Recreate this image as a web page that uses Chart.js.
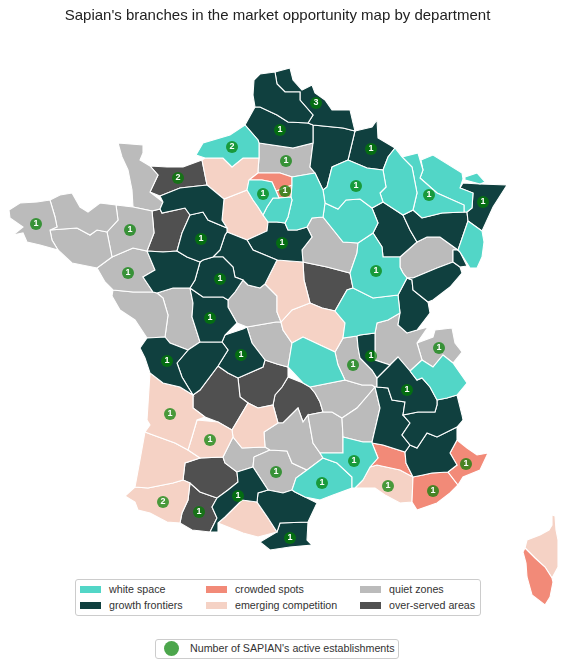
<!DOCTYPE html>
<html>
<head>
<meta charset="utf-8">
<script src="https://cdn.jsdelivr.net/npm/chart.js@4"></script>
<style>
    html, body { margin: 0; padding: 0; background: #fff; overflow: hidden; }
    body { width: 564px; height: 664px; position: relative; font-family: "Liberation Sans", Arial, sans-serif; color: #333; }
    #map { position: absolute; left: -9px; top: 0; }
    .legend { position: absolute; box-sizing: border-box; background: #fff; border: 1px solid #ccc; border-radius: 3px; font-size: 10.7px; }
    #zones { left: 75px; top: 579px; width: 406px; height: 37px; }
    #zones div { position: absolute; white-space: nowrap; line-height: 12px; }
    #zones i { position: absolute; width: 21px; height: 7px; }
    #count { left: 155px; top: 639px; width: 244px; height: 20px; line-height: 17px; padding-left: 34px; white-space: nowrap; }
    #count i { position: absolute; left: 8px; top: 1px; width: 15px; height: 15px; border-radius: 50%; background: rgba(0,128,0,0.7); }
</style>
</head>
<body>
<canvas id="map" width="573" height="664"></canvas>
<div class="legend" id="zones"></div>
<div class="legend" id="count"><i></i>Number of SAPIAN's active establishments</div>
<script>
// ------ data (outlines are x,y pairs in map units) ------
const titleText = "Sapian's branches in the market opportunity map by department";
const categories = ['white space', 'growth frontiers', 'crowded spots', 'emerging competition', 'quiet zones', 'over-served areas'];

const whiteSpace = [
    [196,155,203,143,230,135,245,125,258,140,259,143,259,158,243,158,232,167,223,158,205,158], // Seine-Maritime
    [249,180,262,180,272,182,276,191,279,198,273,198,267,207,263,215,258,207,253,200,247,190], // Yvelines
    [273,198,279,198,291,197,292,200,288,217,285,223,277,222,268,222,263,215,267,207], // Essonne
    [292,177,315,173,323,190,325,203,323,217,312,218,307,227,297,230,288,230,285,223,288,217,292,200,291,197,292,185], // Seine-et-Marne
    [332,167,348,160,367,168,383,170,386,187,380,193,383,202,372,208,360,199,346,200,338,209,325,203,323,190,327,187], // Marne
    [325,203,338,209,346,200,360,199,372,208,378,223,373,233,358,243,343,242,335,232,323,217], // Aube
    [395,148,402,157,412,167,417,193,413,210,403,215,383,202,380,193,386,187,383,170,388,157], // Meuse
    [402,157,418,153,423,170,420,178,437,193,464,205,464,212,442,213,422,218,413,210,417,193,412,167], // Meurthe-et-Moselle
    [421,160,433,155,462,173,463,179,460,188,473,193,472,208,467,212,464,212,464,205,437,193,420,178,423,170], // Moselle
    [465,177,477,173,485,182,480,184,465,180], // Moselle east
    [468,221,482,231,484,242,482,257,477,268,470,268,460,252,458,250], // Haut-Rhin
    [358,243,373,233,382,247,383,257,400,257,400,267,403,273,407,278,398,295,373,298,353,288,350,273,357,253], // Cote-d'Or
    [353,288,373,298,398,295,400,313,388,320,377,323,375,333,360,335,357,336,343,338,345,323,335,311,347,290], // Saone-et-Loire
    [303,337,320,345,335,352,338,365,345,380,330,383,310,387,303,383,288,367,292,343], // Puy-de-Dome
    [410,371,422,360,433,367,443,355,453,363,467,383,457,395,447,398,437,400,430,387,422,378,417,380], // Savoie
    [320,453,343,453,343,437,363,442,372,442,372,443,378,458,370,467,363,480,355,488,352,488,352,477,337,463,323,458], // Gard
    [292,490,296,478,307,470,323,458,337,463,352,477,352,488,333,495,320,500,305,497,295,492], // Herault
];
const growthFrontiers = [
    [254,80,260,74,275,72,277,84,285,92,300,92,300,100,313,115,308,123,288,122,277,115,260,107,255,107,253,95], // Pas-de-Calais
    [275,72,290,68,293,80,302,90,312,85,315,93,325,100,332,110,350,110,353,123,355,131,343,128,313,125,308,123,313,115,300,100,300,92,285,92,277,84], // Nord
    [255,107,260,107,277,115,288,122,308,123,313,125,313,143,293,148,259,143,258,140,245,125], // Somme
    [313,125,343,128,355,131,348,160,332,167,327,187,323,190,315,173,310,167,313,143], // Aisne
    [355,131,372,127,377,120,378,138,395,148,388,157,383,170,367,168,348,160], // Ardennes
    [460,188,463,183,480,184,507,185,493,207,482,231,468,221,467,212,472,208,473,193], // Bas-Rhin
    [403,215,413,210,422,218,442,213,464,212,467,212,468,221,458,250,440,237,427,237,417,242,410,230], // Vosges
    [372,208,383,202,403,215,410,230,417,242,400,257,383,257,382,247,373,233,378,223], // Haute-Marne
    [453,250,458,250,460,252,467,266,460,267,453,262], // Territoire de Belfort
    [413,278,437,268,453,262,460,267,462,273,450,287,433,300,428,302,413,290,412,280,407,278], // Doubs
    [407,278,412,280,413,290,428,302,430,313,417,330,407,333,398,325,400,313,398,295], // Jura
    [160,196,180,188,207,185,224,199,222,220,227,228,208,220,203,212,190,215,185,208,162,213,160,209,163,202], // Orne
    [190,215,203,212,208,220,227,228,227,232,225,235,220,250,213,257,203,260,200,262,187,257,177,251,182,233], // Sarthe
    [147,251,163,252,177,251,187,257,200,262,195,280,190,288,173,288,157,293,153,292,143,277,155,270], // Maine-et-Loire
    [200,262,203,260,213,257,223,257,233,267,235,277,243,280,235,292,228,300,223,297,203,297,190,288,195,280], // Indre-et-Loire
    [227,232,247,240,253,250,277,260,265,284,260,288,248,285,243,280,235,277,233,267,223,257,213,257,220,250,225,235], // Loir-et-Cher
    [285,223,288,230,297,230,307,227,312,237,302,250,303,262,277,260,253,250,247,240,267,231,268,222,277,222], // Loiret
    [190,288,203,297,223,297,228,300,228,307,237,323,225,335,222,342,200,342,192,317,193,303], // Vienne
    [147,338,165,337,170,343,188,350,177,363,182,377,188,387,193,395,180,387,163,383,150,373,145,358,140,348], // Charente-Maritime
    [177,363,188,350,200,342,222,342,228,350,218,366,200,390,193,395,188,387,182,377], // Charente
    [225,335,243,329,247,327,252,343,265,360,263,367,238,378,228,373,218,366,228,350,222,342], // Haute-Vienne
    [360,335,375,333,375,360,390,365,377,378,372,370,360,358,358,347,357,336], // Rhone
    [377,378,390,365,398,357,410,371,417,380,422,378,430,387,437,400,437,405,435,412,418,412,403,415,405,402,392,400,388,388,377,387], // Isere
    [437,400,447,398,457,395,462,415,463,420,457,427,437,437,427,433,417,448,410,445,402,435,410,423,403,415,418,412,435,412,437,405], // Hautes-Alpes
    [377,387,388,388,392,400,405,402,403,415,410,423,402,435,410,445,405,452,383,445,372,443,372,442,380,408,375,387], // Drome
    [457,427,457,440,450,453,457,465,448,472,432,473,423,475,413,477,406,463,405,452,410,445,417,448,427,433,437,437], // Alpes-de-Haute-Provence
    [237,472,253,467,268,490,258,493,257,502,242,500,225,517,218,523,218,532,210,532,217,518,212,507,217,498,228,490,238,482], // Haute-Garonne
    [258,493,268,490,283,493,292,490,295,492,305,497,317,503,308,522,280,523,277,532,268,518,257,502], // Aude
    [260,542,277,532,280,523,308,522,307,540,312,545,290,547,270,550], // Pyrenees-Orientales
];
const crowdedSpots = [
    [249,180,258,173,280,173,292,177,292,185,276,191,272,182,262,180], // Val-d'Oise
    [276,191,292,185,291,197,279,198], // Hauts-de-Seine
    [457,440,467,448,477,455,488,453,480,470,463,477,458,485,448,472,457,465,450,453], // Alpes-Maritimes
    [413,477,423,475,432,473,448,472,458,485,450,493,437,503,417,510,412,502], // Var
    [372,443,383,445,405,452,406,463,413,477,400,470,377,465,370,467,378,458], // Vaucluse
    [380,440,385,438,387,442,382,443], // Valreas enclave
    [523,552,525,548,535,558,545,567,552,578,553,582,550,597,545,605,532,595,527,577,526,563], // Corse-du-Sud
];
const emergingCompetition = [
    [205,158,223,158,232,167,243,158,259,158,258,170,258,173,249,180,247,190,224,199,207,185,202,160], // Eure
    [224,199,247,190,253,200,258,207,263,215,268,222,267,231,247,240,227,232,227,228,222,220], // Eure-et-Loir
    [277,260,303,262,304,280,310,303,292,310,281,322,277,312,277,296,265,284], // Cher
    [281,322,292,310,310,303,322,308,335,311,345,323,343,338,335,352,320,345,303,337,292,343,283,330], // Allier
    [150,373,163,383,180,387,193,395,193,408,205,417,197,420,192,437,188,450,175,443,153,435,145,432,150,425,147,420], // Gironde
    [197,420,218,422,232,430,233,437,223,457,200,458,188,450,192,437], // Lot-et-Garonne
    [145,432,153,435,175,443,188,450,200,458,185,463,183,480,173,483,148,488,135,487,140,460], // Landes
    [125,496,135,487,148,488,173,483,183,480,190,483,188,500,182,513,180,523,167,522,150,513,138,510,135,502], // Pyrenees-Atlantiques
    [232,430,248,403,258,408,273,405,278,423,264,432,265,447,242,448,233,437], // Lot
    [225,517,242,500,257,502,268,518,277,532,258,537,243,533,218,523], // Ariege
    [355,488,363,480,370,467,377,465,400,470,413,477,412,502,400,503,385,495,375,488], // Bouches-du-Rhone
    [552,515,555,516,556,530,558,540,558,567,552,578,545,567,535,558,525,548,527,540,540,535,549,530,552,525], // Haute-Corse
];
const quietZones = [
    [9,210,20,203,37,202,50,200,55,217,57,227,50,230,52,240,58,250,40,245,27,242,23,233,13,235,23,227,10,218], // Finistere
    [50,200,60,195,72,193,80,207,88,212,100,203,116,205,118,220,107,232,97,230,90,235,77,228,50,230,57,227,55,217], // Cotes-d'Armor
    [50,230,77,228,90,235,97,230,107,232,112,257,97,268,72,263,58,250,52,240], // Morbihan
    [116,205,133,207,152,211,154,233,147,251,133,248,112,257,107,232,118,220], // Ille-et-Vilaine
    [118,143,143,145,143,153,140,160,150,166,158,175,150,192,163,202,160,209,152,211,133,207,132,190,128,170,122,157], // Manche
    [97,268,112,257,133,248,147,251,155,270,143,277,153,292,133,292,113,290,105,282], // Loire-Atlantique
    [113,290,133,292,153,292,157,293,163,298,168,315,165,337,147,338,135,320,120,310,112,296], // Vendee
    [157,293,173,288,190,288,193,303,192,317,200,342,188,350,170,343,165,337,168,315,163,298], // Deux-Sevres
    [259,143,293,148,313,143,310,167,315,173,292,177,280,173,258,173,258,170,259,158], // Oise
    [307,227,312,218,323,217,335,232,343,242,358,243,357,253,350,273,327,267,303,262,302,250,312,237], // Yonne
    [400,257,417,242,427,237,440,237,458,250,453,250,453,262,437,268,413,278,407,278,403,273,400,267], // Haute-Saone
    [237,323,228,307,228,300,235,292,243,280,248,285,260,288,265,284,277,296,277,312,281,322,276,322,247,327], // Indre
    [247,327,276,322,281,322,283,330,292,343,288,367,277,364,265,360,252,343], // Creuse
    [343,338,357,336,358,347,360,358,372,370,377,378,377,387,375,387,372,385,362,385,345,380,338,365,335,352], // Loire
    [377,323,388,320,400,313,398,325,407,333,417,330,428,327,417,343,422,360,410,371,398,357,390,365,375,360,375,333], // Ain
    [417,343,433,337,435,330,452,328,455,343,462,352,453,363,443,355,433,367,422,360], // Haute-Savoie
    [375,387,380,408,372,442,363,442,343,437,342,418,357,408,370,393], // Ardeche
    [310,387,330,383,345,380,362,385,372,385,375,387,370,393,357,408,342,418,332,412,323,412,320,402,315,393], // Haute-Loire
    [308,415,323,412,332,412,342,418,343,437,343,453,320,453,313,443], // Lozere
    [264,432,278,423,283,423,298,408,303,422,308,415,313,443,320,453,323,458,307,470,292,463,287,451,270,450,265,447], // Aveyron
    [254,457,270,450,287,451,292,463,307,470,296,478,292,490,283,493,268,490,253,467], // Tarn
    [223,457,233,437,242,448,265,447,270,450,254,457,253,467,237,472,225,463], // Tarn-et-Garonne
];
const overServedAreas = [
    [150,166,167,167,183,167,202,160,207,185,180,188,160,196,150,192,158,175], // Calvados
    [152,211,160,209,162,213,185,208,190,215,182,233,177,251,163,252,147,251,154,233], // Mayenne
    [303,262,327,267,350,273,353,288,347,290,335,311,322,308,310,303,304,280], // Nievre
    [193,395,200,390,218,366,228,373,238,378,240,397,248,403,232,430,218,422,205,417,193,408], // Dordogne
    [238,378,263,367,265,360,277,364,288,367,288,377,282,387,275,395,273,405,258,408,248,403,240,397], // Correze
    [275,395,282,387,288,377,303,383,310,387,315,393,320,402,323,412,308,415,303,422,298,408,283,423,278,423,273,405], // Cantal
    [185,463,200,458,223,457,225,463,237,472,238,482,228,490,217,498,200,492,190,483,183,480], // Gers
    [190,483,200,492,217,498,212,507,217,518,210,532,192,530,180,523,182,513,188,500], // Hautes-Pyrenees
];

const markerX      = [316,280,232,286,178,371,356,429,483,263,285,36,130,128,201,220,282,376,210,167,241,170,210,276,322,354,163,199,238,290,353,371,407,439,466,433,388];
const markerY      = [103,130,147,161,178,149,186,195,202,194,191,224,230,273,239,279,243,271,318,361,355,414,440,472,483,461,502,512,496,538,365,356,390,348,464,491,486];
const markerCounts = [3,1,2,1,2,1,1,1,1,1,1,1,1,1,1,1,1,1,1,1,1,1,1,1,1,1,2,1,1,1,1,1,1,1,1,1,1];

const zoneColors  = ['#52d6c7', '#10403f', '#f28a78', '#f5d2c5', '#bbbbbb', '#505050'];
const zoneGroups  = [whiteSpace, growthFrontiers, crowdedSpots, emergingCompetition, quietZones, overServedAreas];
const markerColor = 'rgba(0,128,0,0.7)';

// Flat x,y list -> closed list of points
function toPoints(outline) {
    const pts = [];
    for (let i = 0; i < outline.length; i += 2) pts.push({ x: outline[i], y: outline[i + 1] });
    pts.push(pts[0]);
    return pts;
}

// Markers first: Chart.js paints dataset 0 on top
const datasets = [{
    data: markerX.map((x, i) => ({ x, y: markerY[i] })),
    pointRadius: 6,
    pointBackgroundColor: markerColor,
    pointBorderWidth: 0,
    showLine: false,
}];
zoneGroups.forEach((group, g) => {
    group.forEach(outline => {
        datasets.push({
            data: toPoints(outline),
            showLine: true,
            fill: 'shape',
            backgroundColor: zoneColors[g],
            borderColor: '#fff',
            borderWidth: 1.1,
            pointRadius: 0,
            tension: 0,
        });
    });
});

// Count number inside each marker
const countLabels = {
    id: 'countLabels',
    afterDatasetsDraw(chart) {
        const { ctx, scales } = chart;
        ctx.save();
        ctx.font = 'bold 9px "Liberation Sans", Arial, sans-serif';
        ctx.fillStyle = '#fff';
        ctx.textAlign = 'center';
        ctx.textBaseline = 'middle';
        markerCounts.forEach((n, i) => {
            ctx.fillText(n, scales.x.getPixelForValue(markerX[i]), scales.y.getPixelForValue(markerY[i]));
        });
        ctx.restore();
    },
};

new Chart(document.getElementById('map'), {
    type: 'scatter',
    data: { datasets },
    plugins: [countLabels],
    options: {
        responsive: false,
        animation: false,
        layout: { padding: 0, autoPadding: false },
        plugins: {
            legend: { display: false },
            tooltip: { enabled: false },
            title: {
                display: true,
                text: titleText,
                color: '#222',
                font: { size: 15, weight: 'normal', family: '"Liberation Sans", Arial, sans-serif' },
                padding: { top: 7, bottom: 9 },
            },
        },
        scales: {
            x: { display: false, min: -9, max: 564 },
            y: { display: false, min: 34, max: 664, reverse: true },
        },
    },
});

// Legend boxes
const zones = document.getElementById('zones');
const legendLeft = [4, 130, 284];
categories.forEach((name, i) => {
    const col = Math.floor(i / 2);
    const row = i % 2;
    const item = document.createElement('div');
    item.style.left = legendLeft[col] + 'px';
    item.style.top = (row ? 19 : 3) + 'px';
    item.style.paddingLeft = '29px';
    item.innerHTML = `<i style="left:0;top:3px;background:${zoneColors[i]}"></i>${name}`;
    zones.appendChild(item);
});
</script>
</body>
</html>
